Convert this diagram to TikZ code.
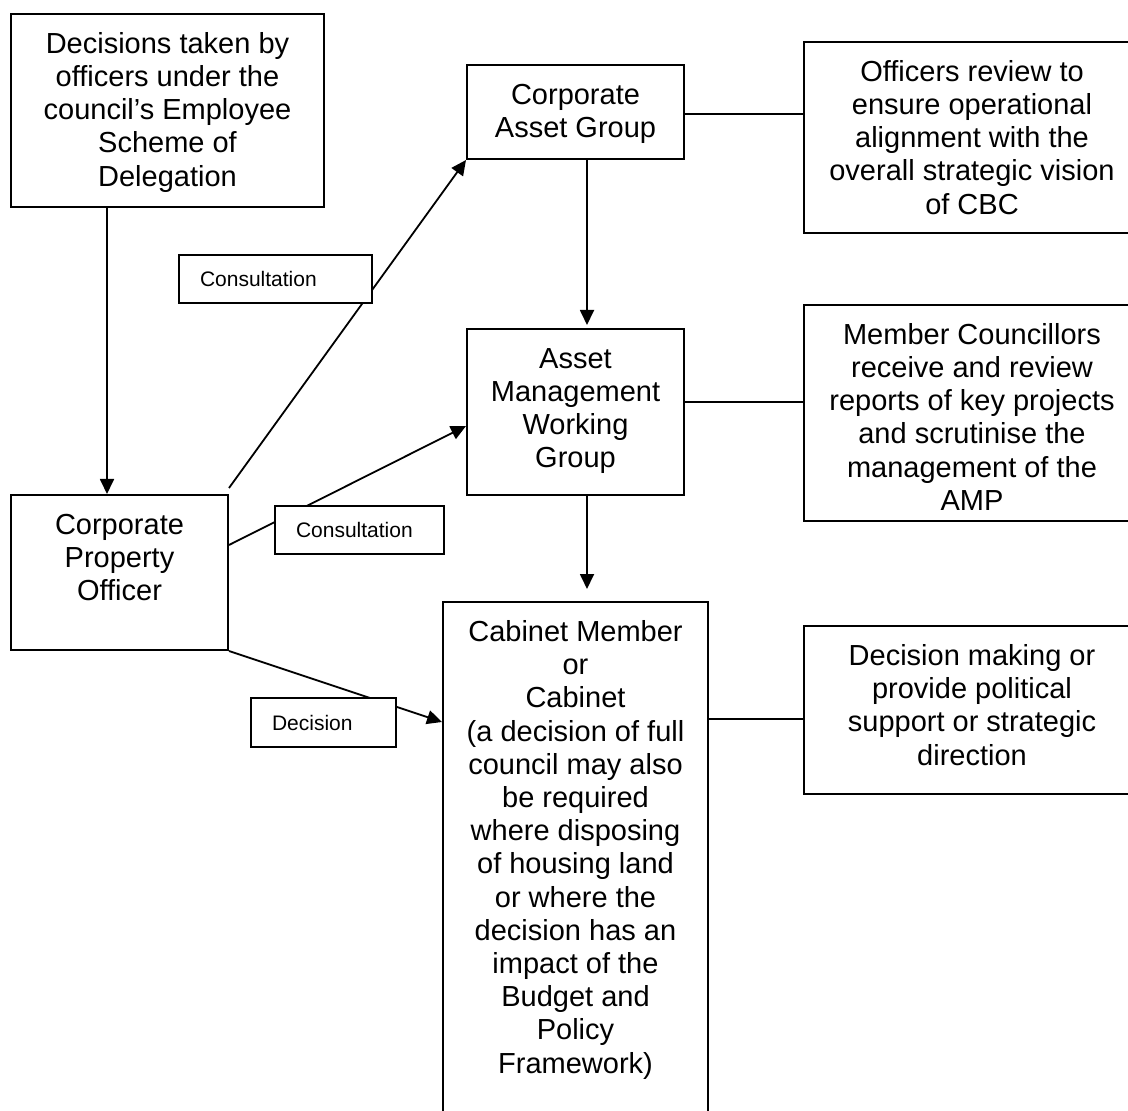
\documentclass[tikz,border=0pt]{standalone}
\usepackage{fontspec}
\setmainfont{Liberation Sans}
\usetikzlibrary{arrows.meta}

\newcommand{\boxtxt}[3]{\parbox[c][#2][t]{#1}{\centering\rule{0pt}{19.7pt}#3}}

\tikzset{
    blk/.style={draw, line width=1pt, inner sep=0pt, anchor=north west,
        font=\fontsize{14.5pt}{16.6pt}\selectfont},
    lbl/.style={draw, line width=1pt, fill=white, inner ysep=0pt, inner xsep=10.5pt,
        anchor=north west, align=left, minimum height=24pt,
        font=\fontsize{10.5pt}{12pt}\selectfont},
}

\begin{document}
\begin{tikzpicture}[x=0.5pt, y=-0.5pt, line width=0.9pt,
        >={Triangle[length=7.5pt,width=7pt]}]
        \useasboundingbox (0,0) rectangle (1128,1111);
        \clip (0,0) rectangle (1128,1111);
        \fill[white] (0,0) rectangle (1128,1111);

        % ~~~~ Boxes ~~~~%
        \node[blk] (dec) at (10,13) {\boxtxt{156.5pt}{96.5pt}{Decisions taken by\\officers under the\\council’s Employee\\Scheme of\\Delegation}};
        \node[blk] (cpo) at (10,494) {\boxtxt{108.5pt}{77.5pt}{Corporate\\Property\\Officer}};
        \node[blk] (cag) at (466,64) {\boxtxt{108.5pt}{47pt}{Corporate\\Asset Group}};
        \node[blk] (amwg) at (466,328) {\boxtxt{108.5pt}{83pt}{Asset\\Management\\Working\\Group}};
        \node[blk] (cab) at (442,601) {\boxtxt{132.5pt}{274.5pt}{Cabinet Member\\or\\Cabinet\\(a decision of full\\council may also\\be required\\where disposing\\of housing land\\or where the\\decision has an\\impact of the\\Budget and\\Policy\\Framework)}};

        \node[blk] (rev) at (803,41) {\boxtxt{168pt}{95.5pt}{Officers review to\\ensure operational\\alignment with the\\overall strategic vision\\of CBC}};
        \node[blk] (mem) at (803,304) {\boxtxt{168pt}{108pt}{Member Councillors\\receive and review\\reports of key projects\\and scrutinise the\\management of the\\AMP}};
        \node[blk] (pol) at (803,625) {\boxtxt{168pt}{84pt}{Decision making or\\provide political\\support or strategic\\direction}};

        % ~~~~ Arrows ~~~~%
        \draw[->] ([xshift=48.5pt]dec.south west) -- ([xshift=48.5pt]cpo.north west);
        \draw[->] ([yshift=3pt]cpo.north east) -- (cag.south west);
        \draw[->] ([yshift=13.75pt]cpo.east) -- ([yshift=-7pt]amwg.west);
        \draw[->] (cpo.south east) -- ([yshift=-60.5pt]cab.north west);
        \draw[->, shorten >=1.5pt] ([xshift=60.5pt]cag.south west) -- ([xshift=60.5pt]amwg.north west);
        \draw[->, shorten >=6pt] ([xshift=60.5pt]amwg.south west) -- ([xshift=72.5pt]cab.north west);

        % ~~~~ Side links ~~~~%
        \coordinate (cagR) at ([yshift=-1pt]cag.east);
        \coordinate (amwgR) at ([yshift=5pt]amwg.east);
        \coordinate (cabR) at ([yshift=-59pt]cab.north east);
        \draw (cagR) -- (cagR -| rev.west);
        \draw (amwgR) -- (amwgR -| mem.west);
        \draw (cabR) -- (cabR -| pol.west);

        % ~~~~ Labels ~~~~%
        \node[lbl, text width=75.5pt] (con1) at (178,254) {Consultation};
        \node[lbl, text width=63.5pt] (con2) at (274,505) {Consultation};
        \node[lbl, text width=51.5pt, minimum height=24.5pt] (decl) at (250,697) {Decision};
\end{tikzpicture}
\end{document}
